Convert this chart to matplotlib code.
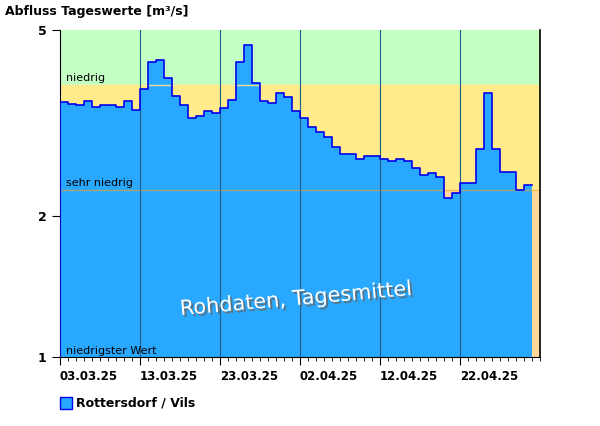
import numpy as np
import matplotlib.pyplot as plt
from matplotlib.ticker import FixedLocator, NullLocator
import matplotlib.patheffects as pe

# daily mean discharge 03.03.25 .. 30.04.25 [m³/s]
flow = [3.50, 3.47, 3.45, 3.52, 3.42, 3.45, 3.45, 3.42, 3.52, 3.38,
        3.74, 4.27, 4.32, 3.94, 3.61, 3.45, 3.25, 3.27, 3.35, 3.32,
        3.40, 3.54, 4.27, 4.64, 3.85, 3.53, 3.49, 3.66, 3.60, 3.36,
        3.24, 3.10, 3.02, 2.96, 2.81, 2.71, 2.71, 2.65, 2.69, 2.69,
        2.65, 2.63, 2.65, 2.63, 2.53, 2.45, 2.47, 2.42, 2.19, 2.24,
        2.36, 2.36, 2.79, 3.66, 2.79, 2.49, 2.48, 2.28, 2.33]
date_labels = ['03.03.25', '13.03.25', '23.03.25', '02.04.25', '12.04.25', '22.04.25']
niedrig = 3.81
sehr_niedrig = 2.28
y_min, y_max = 1.0, 5.0

fig = plt.figure(figsize=(6, 4.26), dpi=100)
ax = fig.add_axes([0.1, 0.162, 0.8, 0.7676])
ax.set_yscale('log')
ax.set_xlim(0, 60)
ax.set_ylim(y_min, y_max)

ax.axhspan(niedrig, y_max, color='#c4ffc4', zorder=0)
ax.axhspan(sehr_niedrig, niedrig, color='#ffeb8c', zorder=0)
ax.axhspan(y_min, sehr_niedrig, color='#ffd79a', zorder=0)

x = np.arange(len(flow) + 1)
y = flow + [flow[-1]]
ax.fill_between(x, y_min, y, step='post', color='#29a8ff', lw=0, zorder=1)
ax.step(x, y, where='post', color='#0000ee', lw=1.2, zorder=3)
ax.plot([0, 0], [y_min, flow[0]], color='#0000ee', lw=1.2, zorder=3)

ax.axhline(niedrig, color='#ffe98a', lw=1, alpha=0.9, zorder=2)
ax.axhline(sehr_niedrig, color='#f5a623', lw=1, alpha=0.6, zorder=2)
for d in range(10, 60, 10):
    ax.axvline(d, color='#1f5f8a', lw=0.8, zorder=2)

ax.text(0.7, niedrig * 1.01, 'niedrig', fontsize=8, va='bottom', zorder=4)
ax.text(0.7, sehr_niedrig * 1.01, 'sehr niedrig', fontsize=8, va='bottom', zorder=4)
ax.text(0.7, 1.005, 'niedrigster Wert', fontsize=8, va='bottom', zorder=4)

ax.text(29.5, 1.33, 'Rohdaten, Tagesmittel', fontsize=15, color='white', rotation=5,
        ha='center', va='center', zorder=5,
        path_effects=[pe.withSimplePatchShadow(offset=(1.5, -1.5), shadow_rgbFace='#666666', alpha=0.8)])

ax.yaxis.set_major_locator(FixedLocator([1, 2, 5]))
ax.yaxis.set_minor_locator(NullLocator())
ax.set_yticklabels(['1', '2', '5'], fontweight='bold', fontsize=9)
ax.xaxis.set_major_locator(FixedLocator(range(0, 60, 10)))
ax.xaxis.set_minor_locator(FixedLocator(range(0, 61)))
ax.set_xticklabels(date_labels, fontweight='bold', fontsize=8.5, ha='left')
for lbl in ax.get_xticklabels():
    lbl.set_x(-0.4)
ax.tick_params(axis='x', which='major', length=6, direction='out')
ax.tick_params(axis='x', which='minor', length=3, direction='out')
ax.tick_params(axis='y', length=6, direction='out')
ax.spines['top'].set_visible(False)
ax.spines['right'].set_linewidth(1.2)

fig.text(5 / 600, 1 - 12 / 426, 'Abfluss Tageswerte [m³/s]', fontweight='bold', fontsize=9, va='center')
fig.patches.append(plt.Rectangle((60 / 600, 1 - 409 / 426), 12 / 600, 12 / 426,
                                 transform=fig.transFigure, facecolor='#29a8ff', edgecolor='#0000ee', lw=1))
fig.text(76 / 600, 1 - 403 / 426, 'Rottersdorf / Vils', fontweight='bold', fontsize=9, va='center')

fig.savefig('out.png', dpi=100)
